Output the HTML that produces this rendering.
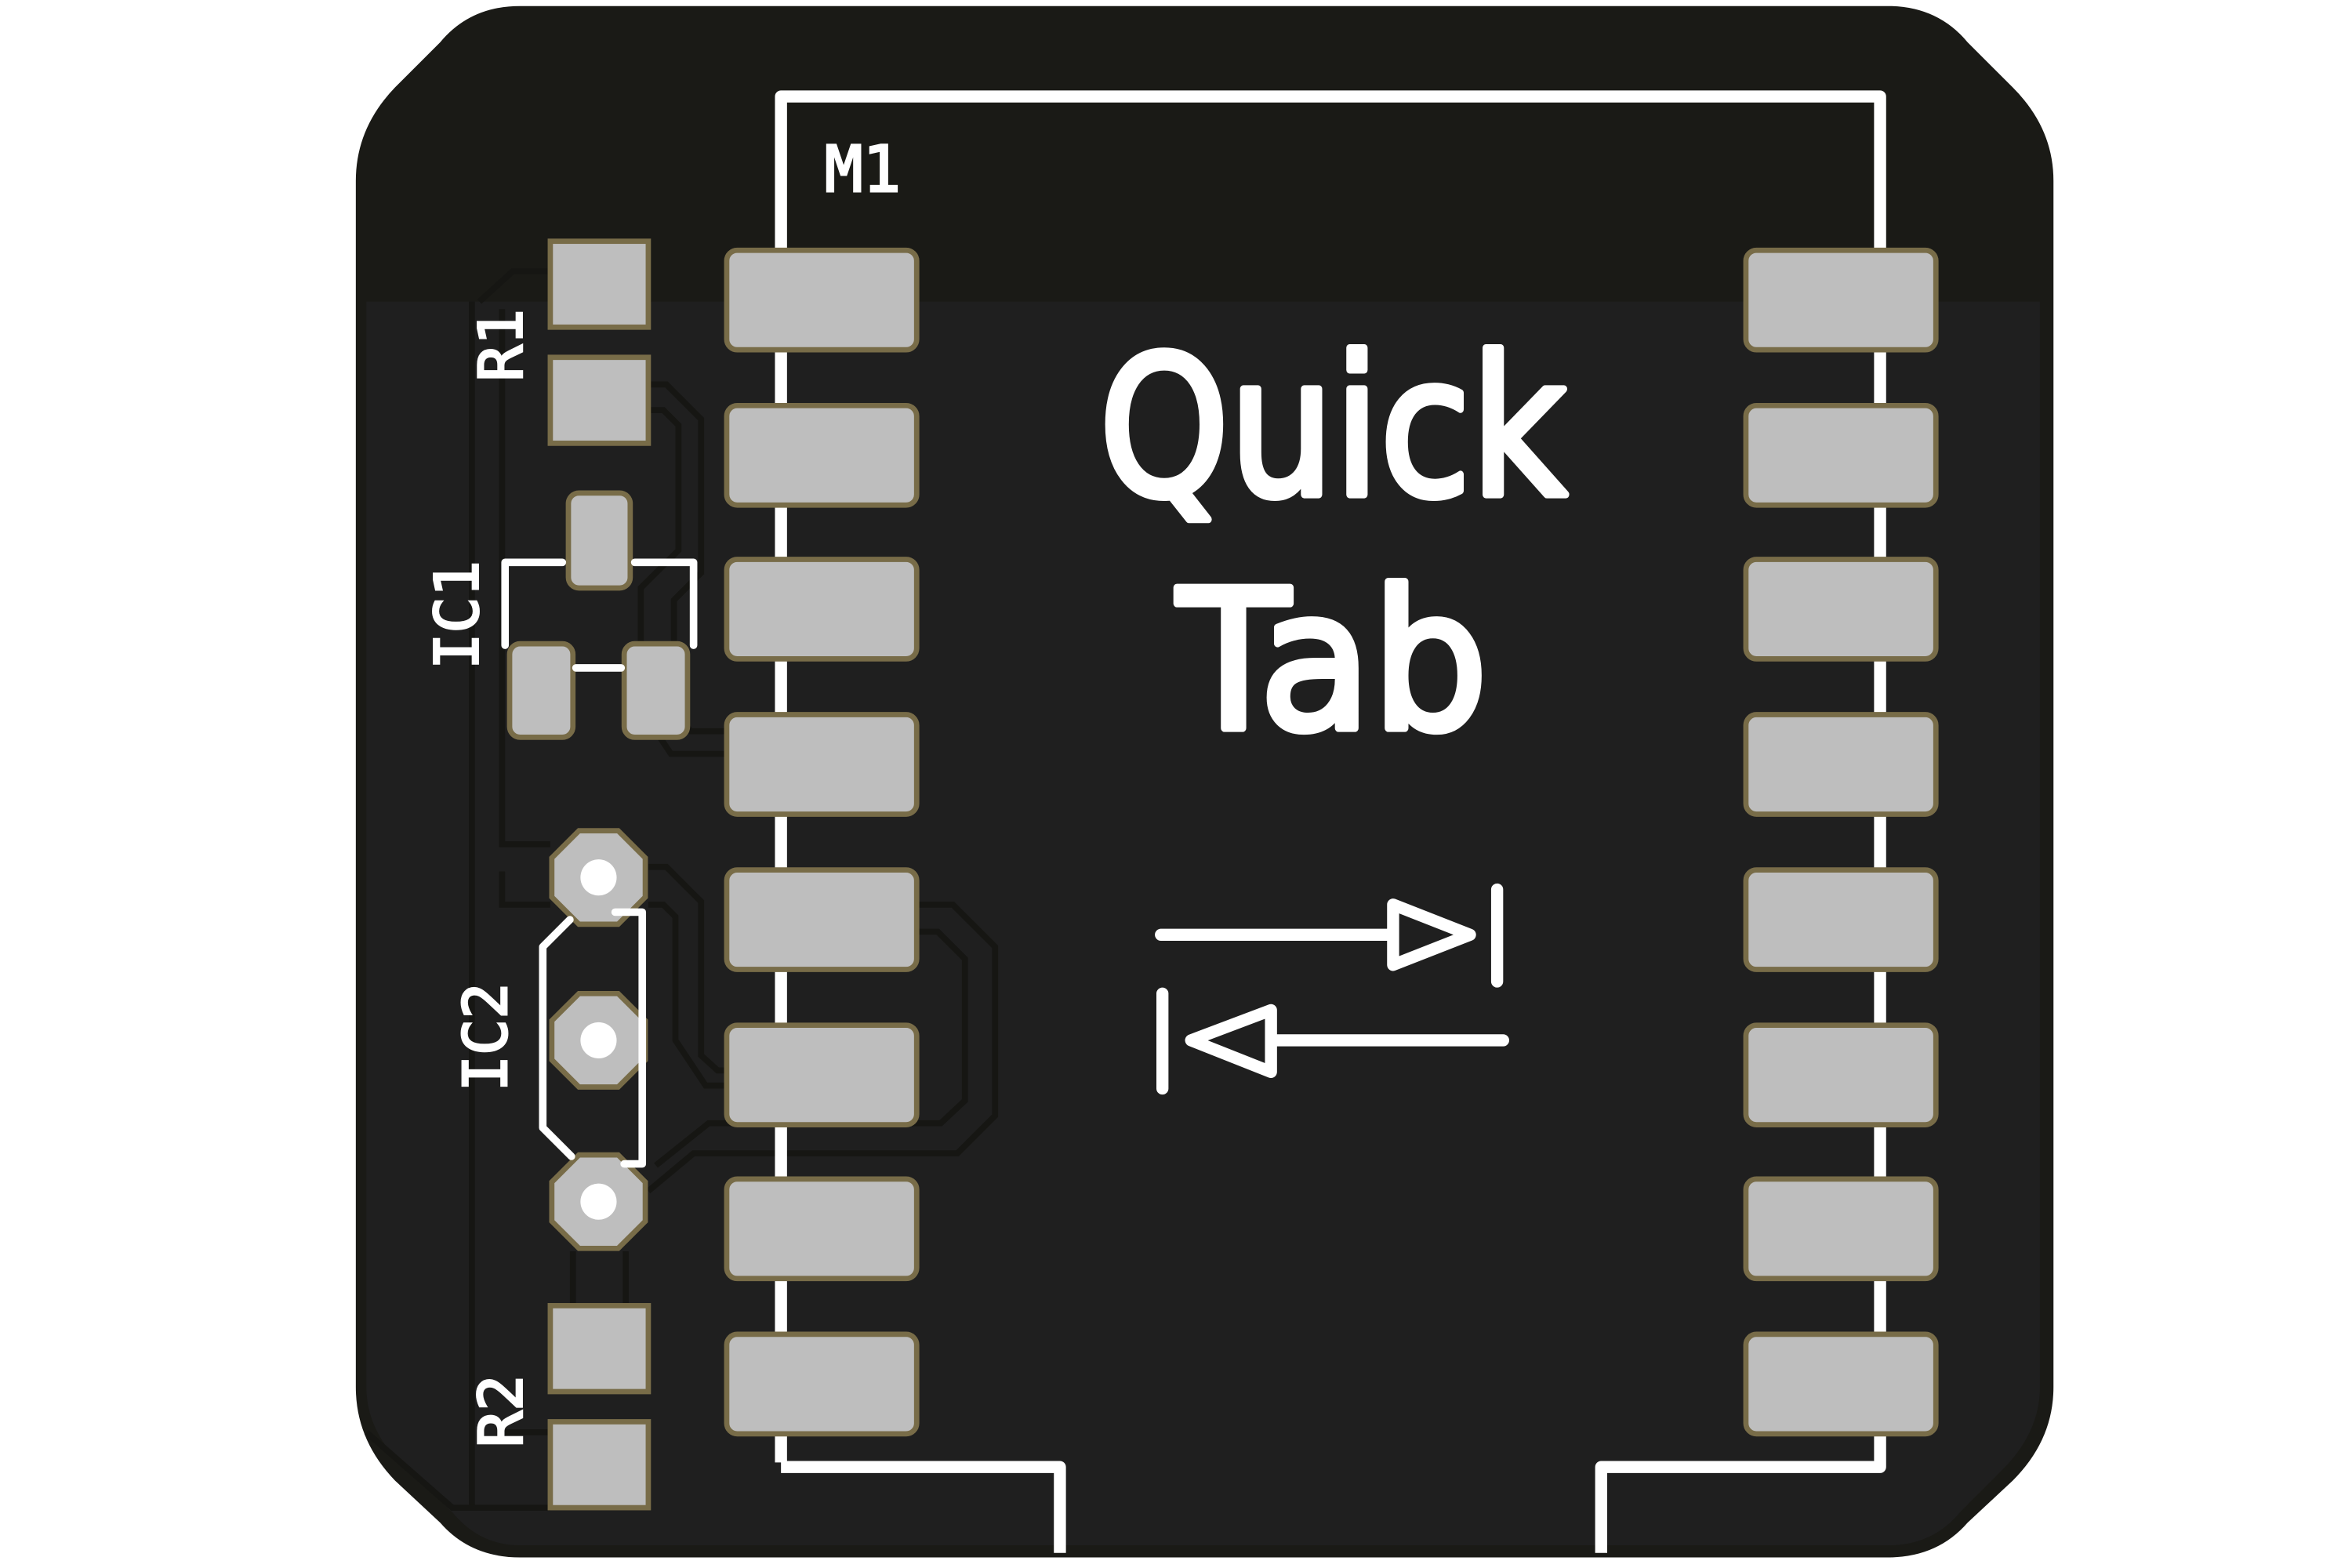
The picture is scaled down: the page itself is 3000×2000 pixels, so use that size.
<!DOCTYPE html>
<html><head><style>html,body{margin:0;padding:0;background:#fff}svg{display:block}</style></head>
<body>
<svg width="3000" height="2000" viewBox="0 0 1560 1040" xmlns="http://www.w3.org/2000/svg">
<defs>
<clipPath id="bd"><path d="M345,4 H1252 Q1285,4 1305,28 L1335,58 Q1362,85 1362,120 V920 Q1362,955 1335,982 L1305,1010 Q1285,1033 1252,1033 H345 Q312,1033 292,1010 L262,982 Q236,955 236,920 V120 Q236,85 262,58 L292,28 Q312,4 345,4 Z"/></clipPath>
</defs>
<path d="M345,4 H1252 Q1285,4 1305,28 L1335,58 Q1362,85 1362,120 V920 Q1362,955 1335,982 L1305,1010 Q1285,1033 1252,1033 H345 Q312,1033 292,1010 L262,982 Q236,955 236,920 V120 Q236,85 262,58 L292,28 Q312,4 345,4 Z" fill="#1a1a16"/>
<g clip-path="url(#bd)">
<path d="M243,200 H1353 V920 Q1353,950 1328,975 L1300,1003 Q1282,1025 1252,1025 H345 Q318,1025 300,1003 L270,975 Q243,950 243,920 Z" fill="#1f1f1f"/>
<g fill="none" stroke="#161613" stroke-width="4">
<path d="M313,200 V1000"/>
<path d="M333,205 V560 H365"/>
<path d="M333,578 V600 H365"/>
<path d="M365,180 H340 L318,200"/>
<path d="M430,255 H442 L465,278 V380 L447,398 V470 L458,485 H482"/>
<path d="M430,272 H440 L450,282 V365 L425,390 V470 L445,500 H482"/>
<path d="M430,575 H442 L465,598 V700 L476,710 H482"/>
<path d="M430,600 H440 L448,608 V690 L468,720 H482"/>
<path d="M608,600 H632 L660,628 V740 L635,765 H460 L430,790"/>
<path d="M608,618 H622 L640,636 V730 L624,745 H470 L435,773"/>
<path d="M380,830 V866 M415,830 V866"/>
<path d="M243,950 L300,1000 H365"/>
<path d="M335,950 H365"/>
</g>
</g>
<path d="M518,970 V64 H1247 V973 H1062 V1030 M518,973 H703 V1030" fill="none" stroke="#fff" stroke-width="8" stroke-linejoin="round"/>
<g fill="#bebebe" stroke="#786c48" stroke-width="3.5">
<rect x="482" y="166" width="126" height="66" rx="7"/>
<rect x="482" y="269" width="126" height="66" rx="7"/>
<rect x="482" y="371" width="126" height="66" rx="7"/>
<rect x="482" y="474" width="126" height="66" rx="7"/>
<rect x="482" y="577" width="126" height="66" rx="7"/>
<rect x="482" y="680" width="126" height="66" rx="7"/>
<rect x="482" y="782" width="126" height="66" rx="7"/>
<rect x="482" y="885" width="126" height="66" rx="7"/>
<rect x="1158" y="166" width="126" height="66" rx="7"/>
<rect x="1158" y="269" width="126" height="66" rx="7"/>
<rect x="1158" y="371" width="126" height="66" rx="7"/>
<rect x="1158" y="474" width="126" height="66" rx="7"/>
<rect x="1158" y="577" width="126" height="66" rx="7"/>
<rect x="1158" y="680" width="126" height="66" rx="7"/>
<rect x="1158" y="782" width="126" height="66" rx="7"/>
<rect x="1158" y="885" width="126" height="66" rx="7"/>
<rect x="365" y="160" width="65" height="57"/>
<rect x="365" y="237" width="65" height="57"/>
<rect x="365" y="866" width="65" height="57"/>
<rect x="365" y="943" width="65" height="57"/>
<rect x="377" y="327" width="41" height="63" rx="7"/>
<rect x="338" y="427" width="42" height="62" rx="7"/>
<rect x="414" y="427" width="42" height="62" rx="7"/>
<polygon points="384,551 410,551 428,569 428,595 410,613 384,613 366,595 366,569"/>
<polygon points="384,659 410,659 428,677 428,703 410,721 384,721 366,703 366,677"/>
<polygon points="384,766 410,766 428,784 428,810 410,828 384,828 366,810 366,784"/>
</g>
<g fill="#fff"><circle cx="397" cy="582" r="12"/><circle cx="397" cy="690" r="12"/><circle cx="397" cy="797" r="12"/></g>
<g fill="none" stroke="#fff" stroke-width="5" stroke-linejoin="round" stroke-linecap="round">
<path d="M335,428 V373 H373 M421,373 H460 V428 M382,443 H412"/>
<path d="M378,610 L360,628 V748 L379,767 M408,605 H426 V772 H414"/>
<path d="M770,620 H920 M924,600 L975,620 L924,640 Z M993,590 V651" stroke-width="8"/>
<path d="M997,690 H845 M843,670 L790,690 L843,711 Z M771,659 V722" stroke-width="8"/>
</g>
<g fill="#fff" stroke="#fff" stroke-width="1.5" font-family="'DejaVu Sans Mono','Liberation Mono',monospace">
<text x="547" y="127" font-size="42">M1</text>
<text transform="translate(346,253) rotate(-90)" font-size="40">R1</text>
<text transform="translate(346,960) rotate(-90)" font-size="40">R2</text>
<text transform="translate(317,444) rotate(-90)" font-size="40">IC1</text>
<text transform="translate(336,724) rotate(-90)" font-size="40">IC2</text>
</g>
<g fill="#fff" stroke="#fff" stroke-width="5" stroke-linejoin="round" font-family="'DejaVu Sans','Liberation Sans',sans-serif" text-anchor="middle" font-size="128">
<text x="884" y="328" textLength="310" lengthAdjust="spacingAndGlyphs">Quick</text>
<text x="884" y="483" textLength="206" lengthAdjust="spacingAndGlyphs">Tab</text>
</g>
</svg>
</body></html>
